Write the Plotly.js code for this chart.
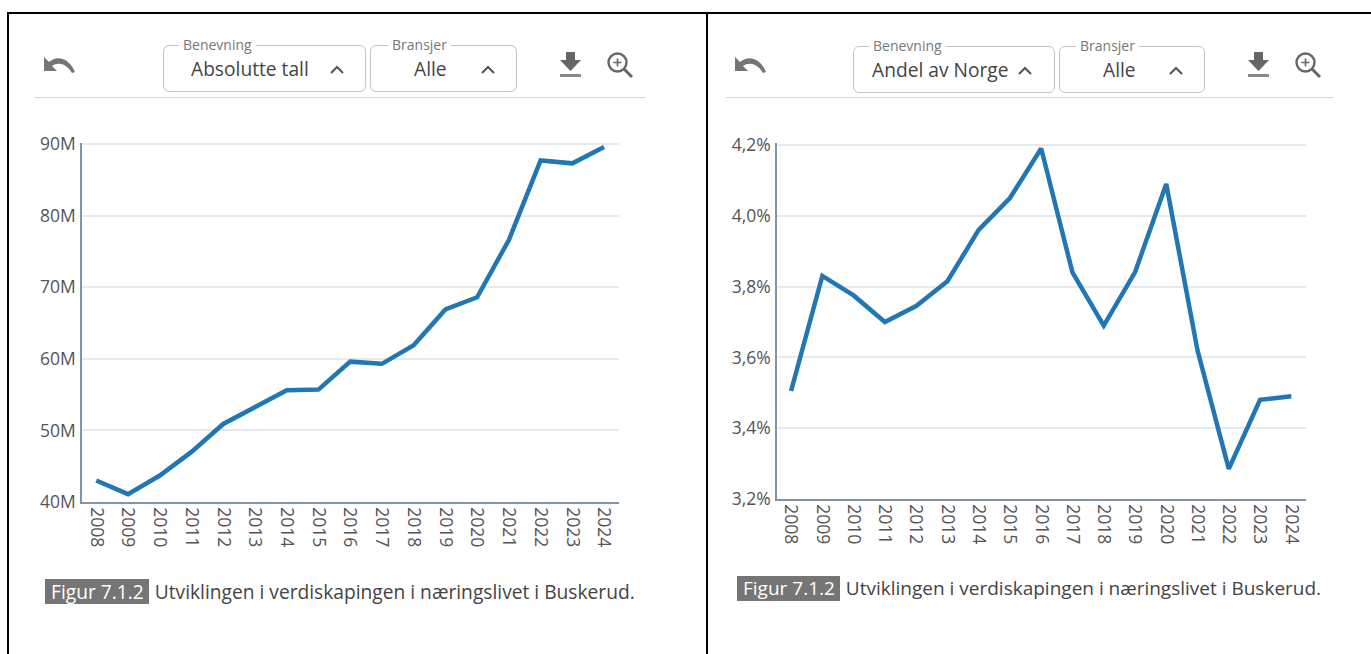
<!DOCTYPE html>
<html><head><meta charset="utf-8">
<script src="https://cdn.plot.ly/plotly-3.0.1.min.js"></script>
<style>
html,body{margin:0;padding:0;background:#fff;overflow:hidden}
#wrap{position:relative;width:1371px;height:654px;font-family:"Open Sans",sans-serif;color:#444}
#chart{position:absolute;left:0;top:0;width:1371px;height:654px}
.bk{position:absolute;background:#000}
.hr{position:absolute;height:1px;background:#d6d6d6}
.sel{position:absolute;border:1px solid #c4c4c4;border-radius:6px;box-sizing:border-box;height:47px}
.sel .lab{position:absolute;top:-9px;background:#fff;padding:0 4px;font-size:14px;line-height:15px;color:#777;white-space:nowrap}
.sel .val{position:absolute;top:11px;font-size:19.2px;line-height:24px;color:#444;white-space:nowrap}
.sel svg{position:absolute;top:18px}
.cap{position:absolute;font-size:19px;line-height:25px;white-space:nowrap;color:#444}
.cap b{font-weight:400;background:#757575;color:#fff;padding:0 5px 0 6px;margin-right:6px;display:inline-block}
.ic{position:absolute}
</style></head><body>
<div id="wrap">
<div id="chart"></div>
<div class="bk" style="left:8px;top:12px;width:1363px;height:2px"></div>
<div class="bk" style="left:7px;top:12px;width:2px;height:642px"></div>
<div class="bk" style="left:706px;top:12px;width:2px;height:642px"></div>
<div class="hr" style="left:35px;top:97px;width:610px"></div>
<div class="hr" style="left:726px;top:97px;width:607px"></div>

<div class="sel" style="left:163px;top:45px;width:203px"><span class="lab" style="left:15px">Benevning</span><span class="val" style="left:27px">Absolutte tall</span><svg width="16" height="10" style="left:165px"><path d="M2 9 L8 3 L14 9" fill="none" stroke="#555" stroke-width="2"/></svg></div>
<div class="sel" style="left:370px;top:45px;width:147px"><span class="lab" style="left:17px">Bransjer</span><span class="val" style="left:43px">Alle</span><svg width="16" height="10" style="left:109px"><path d="M2 9 L8 3 L14 9" fill="none" stroke="#555" stroke-width="2"/></svg></div>
<div class="sel" style="left:853px;top:46px;width:202px"><span class="lab" style="left:15px">Benevning</span><span class="val" style="left:18px">Andel av Norge</span><svg width="16" height="10" style="left:163px"><path d="M2 9 L8 3 L14 9" fill="none" stroke="#555" stroke-width="2"/></svg></div>
<div class="sel" style="left:1059px;top:46px;width:146px"><span class="lab" style="left:16px">Bransjer</span><span class="val" style="left:43px">Alle</span><svg width="16" height="10" style="left:108px"><path d="M2 9 L8 3 L14 9" fill="none" stroke="#555" stroke-width="2"/></svg></div>

<svg class="ic" style="left:44px;top:55px" width="32" height="20"><path d="M0 2 L0 16 L13 16 L8 11 C14 7 22 8 28 18 L31 17 C26 4 14 -1 5 7 Z" fill="#757575"/></svg>
<svg class="ic" style="left:735px;top:55px" width="32" height="20"><path d="M0 2 L0 16 L13 16 L8 11 C14 7 22 8 28 18 L31 17 C26 4 14 -1 5 7 Z" fill="#757575"/></svg>
<svg class="ic" style="left:559px;top:51px" width="24" height="27"><path d="M7 1 H16 V9 H22 L11.5 20 L1 9 H7 Z" fill="#666"/><rect x="1" y="23" width="21" height="3" fill="#888"/></svg>
<svg class="ic" style="left:1247px;top:51px" width="24" height="27"><path d="M7 1 H16 V9 H22 L11.5 20 L1 9 H7 Z" fill="#666"/><rect x="1" y="23" width="21" height="3" fill="#888"/></svg>
<svg class="ic" style="left:606px;top:51px" width="28" height="28"><circle cx="11.5" cy="11.5" r="9" fill="none" stroke="#666" stroke-width="2.4"/><path d="M18 18 L26 26" stroke="#666" stroke-width="3"/><path d="M7.5 11.5 H15.5 M11.5 7.5 V15.5" stroke="#666" stroke-width="1.6"/></svg>
<svg class="ic" style="left:1294px;top:51px" width="28" height="28"><circle cx="11.5" cy="11.5" r="9" fill="none" stroke="#666" stroke-width="2.4"/><path d="M18 18 L26 26" stroke="#666" stroke-width="3"/><path d="M7.5 11.5 H15.5 M11.5 7.5 V15.5" stroke="#666" stroke-width="1.6"/></svg>

<div class="cap" style="left:45px;top:579px;font-size:19.2px"><b>Figur 7.1.2</b>Utviklingen i verdiskapingen i næringslivet i Buskerud.</div>
<div class="cap" style="left:737px;top:576px"><b>Figur 7.1.2</b>Utviklingen i verdiskapingen i næringslivet i Buskerud.</div>
</div>
<script>
const years = ["2008","2009","2010","2011","2012","2013","2014","2015","2016","2017","2018","2019","2020","2021","2022","2023","2024"];
const absoluteValues = [43.0,41.1,43.7,47.0,50.9,53.3,55.6,55.7,59.6,59.3,61.9,66.9,68.6,76.6,87.7,87.3,89.6];
const shareValues = [3.505,3.83,3.775,3.70,3.745,3.815,3.96,4.05,4.19,3.84,3.69,3.84,4.09,3.62,3.285,3.48,3.49];
const absTicks = [40,50,60,70,80,90];
const absTickLabels = ["40M","50M","60M","70M","80M","90M"];
const shareTicks = [3.2,3.4,3.6,3.8,4.0,4.2];
const shareTickLabels = ["3,2%","3,4%","3,6%","3,8%","4,0%","4,2%"];

const W = 1371, H = 654;
const fx = (a,b)=>[a/W,b/W];
const fy = (t,b)=>[1-b/H,1-t/H];
const tickFont = {family:'"Open Sans",sans-serif',size:17.5,color:'#555'};
const axisColor = '#8296a3', gridColor = '#e6eaed';
function xAxis(dom,anchor){return {domain:dom,anchor:anchor,type:'category',range:[-0.45,16.47],tickmode:'array',tickvals:years,ticktext:years,tickangle:90,showgrid:false,zeroline:false,showline:true,linecolor:axisColor,linewidth:1.5,ticks:'',tickfont:tickFont,fixedrange:true};}
function yAxis(dom,anchor,r,tv,tt){return {domain:dom,anchor:anchor,range:r,tickmode:'array',tickvals:tv,ticktext:tt,showgrid:true,gridcolor:gridColor,gridwidth:1.5,zeroline:false,showline:true,linecolor:axisColor,linewidth:1.5,ticks:'',tickfont:tickFont,ticklabelstandoff:1,fixedrange:true};}
const line = {color:'#2176b4',width:4.5,shape:'linear'};
Plotly.newPlot('chart',[
 {x:years,y:absoluteValues,xaxis:'x',yaxis:'y',type:'scatter',mode:'lines',line:line,hoverinfo:'x+y'},
 {x:years,y:shareValues,xaxis:'x2',yaxis:'y2',type:'scatter',mode:'lines',line:line,hoverinfo:'x+y'}
],{
 width:W,height:H,showlegend:false,paper_bgcolor:'rgba(0,0,0,0)',plot_bgcolor:'rgba(0,0,0,0)',
 margin:{l:0,r:0,t:0,b:0,pad:0},
 xaxis:xAxis(fx(82,619),'y'),
 yaxis:yAxis(fy(142.6,502),'x',[40,90.2],absTicks,absTickLabels),
 xaxis2:xAxis(fx(777,1306),'y2'),
 yaxis2:yAxis(fy(143.2,499),'x2',[3.2,4.205],shareTicks,shareTickLabels)
},{displayModeBar:false,responsive:false});
</script>
</body></html>
